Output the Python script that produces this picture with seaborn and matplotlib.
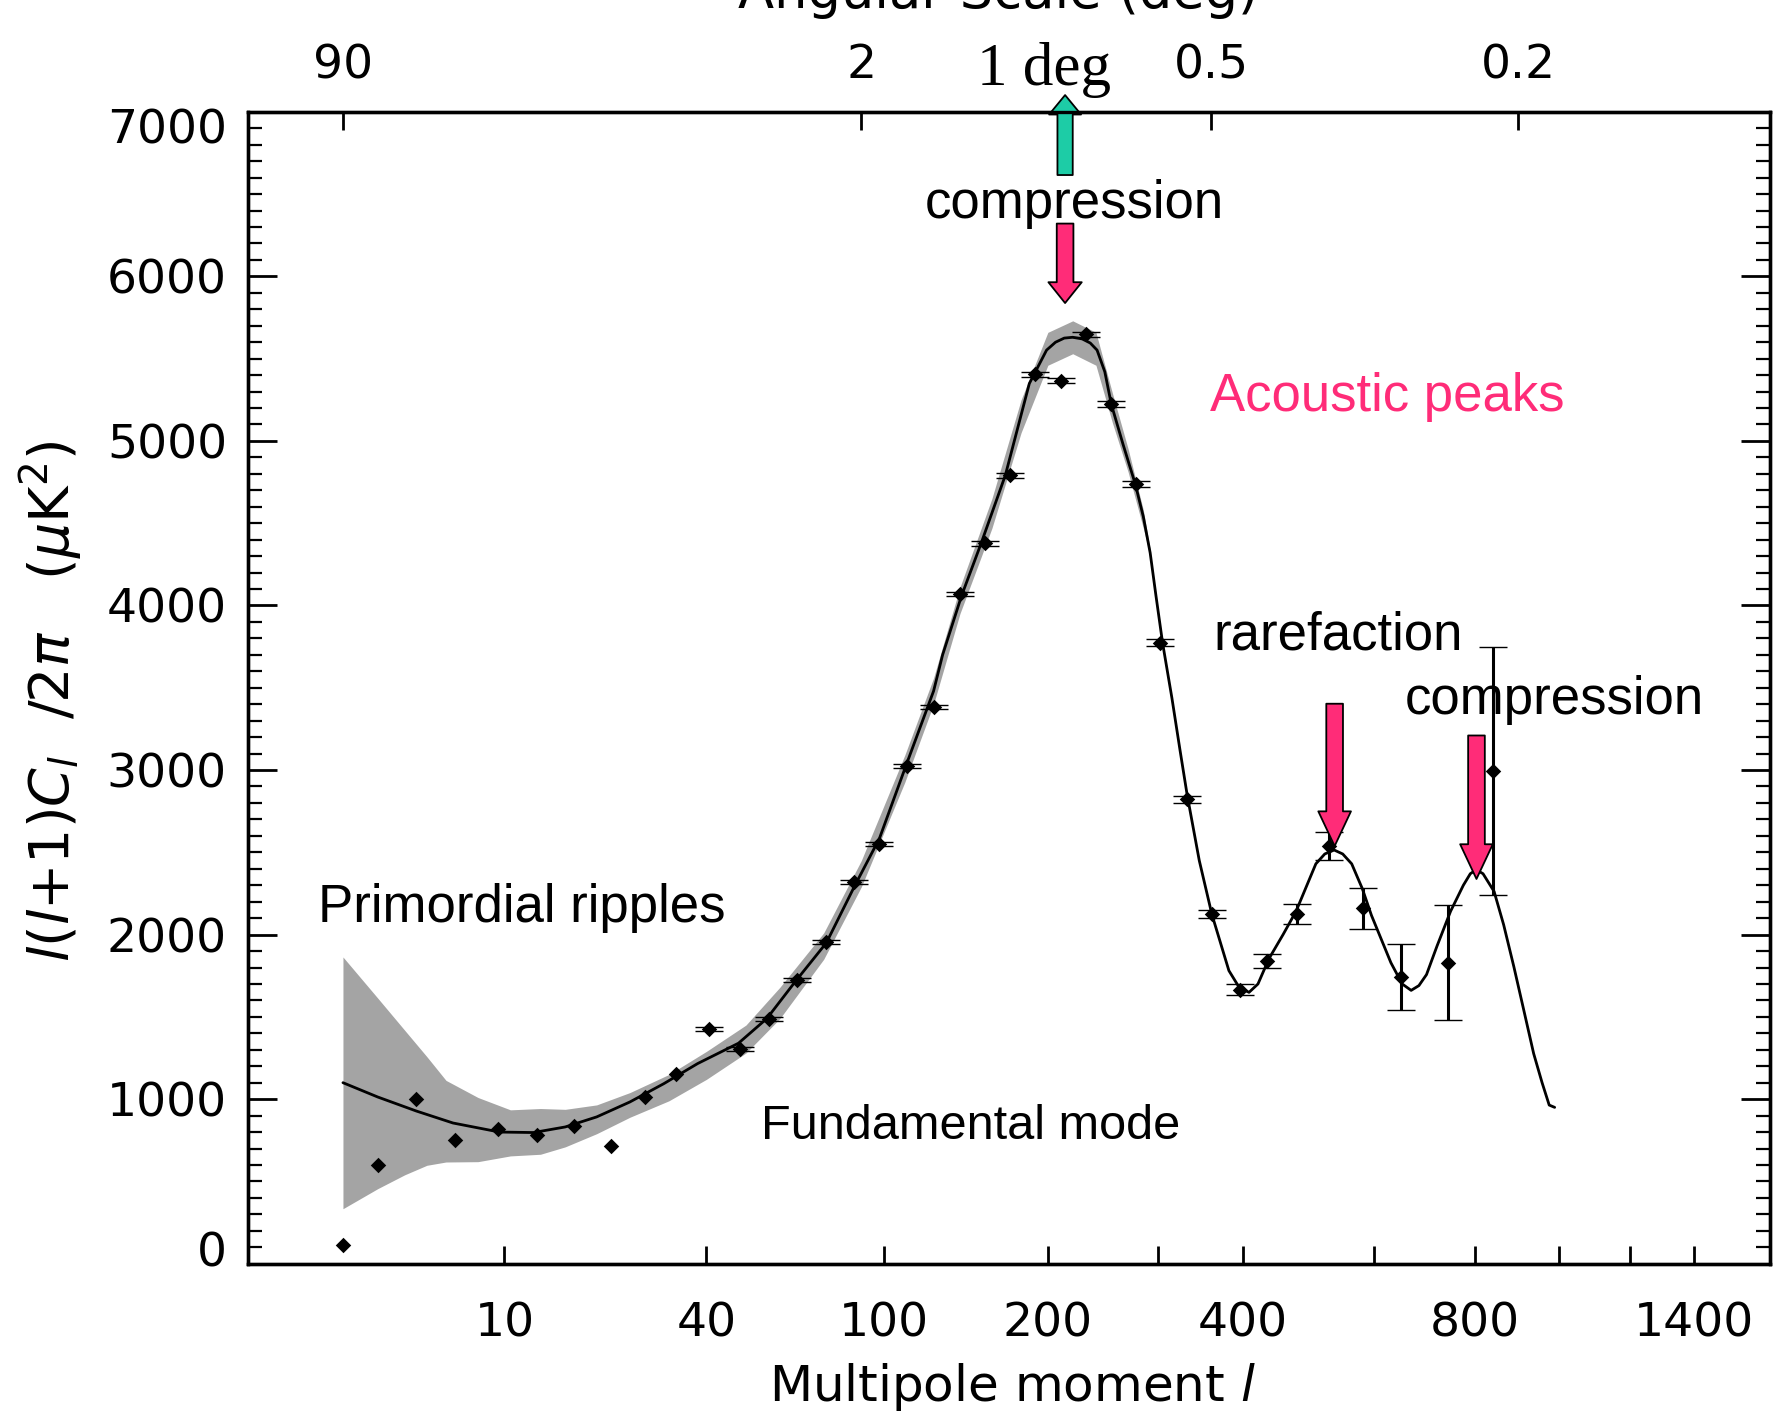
import numpy as np
import pandas as pd
import matplotlib
matplotlib.use("Agg")
import matplotlib.pyplot as plt
import matplotlib.ticker as mticker
import matplotlib.transforms as mtransforms
import seaborn as sns

# binned power spectrum points (multipole, l(l+1)C_l/2pi in uK^2, error)
data_l = [2, 3, 4.5, 6.5, 9.5, 13, 17, 22, 27.5, 33.5, 40.5, 48.5, 56.5, 65.5, 76, 87, 98,
          111, 125, 140, 155.5, 172, 190, 210, 231, 253.5, 277.5, 302.5, 331.5, 361,
          396.5, 433, 475, 524, 581, 650, 743.5, 840.5]
data_val = [112, 602, 999, 754, 821, 784, 837, 715, 1013, 1155, 1428, 1303, 1487, 1726,
            1953, 2321, 2549, 3023, 3383, 4069, 4377, 4792, 5406, 5366, 5647, 5222, 4737,
            3775, 2821, 2123, 1666, 1841, 2123, 2538, 2159, 1741, 1829, 2994]
data_err = [0, 0, 0, 0, 0, 0, 0, 0, 0, 0, 12, 12, 12, 12, 12, 12, 13, 13, 14, 14, 15, 15,
            16, 16, 17, 18, 19, 20, 22, 24, 31, 42, 61, 83, 125, 201, 350, 752]

# best-fit model curve
model_l = [2, 3, 4.5, 6.4, 9.6, 12.6, 16, 20, 25, 31, 38, 48, 56, 65, 76, 87, 98, 111, 125,
           130, 141, 153, 169, 186, 199, 206, 213, 220, 228, 235, 241, 248, 254, 265, 277,
           285, 292, 298, 305, 315, 324, 332, 346, 361, 382, 395, 408, 420, 435, 455, 474,
           504, 518, 533, 547, 562, 580, 596, 631, 652, 669, 684, 699, 720, 748, 775, 790,
           803, 818, 843, 865, 889, 912, 937, 958, 976, 990]
model_val = [1100, 1013, 928, 855, 800, 797, 831, 892, 983, 1094, 1216, 1340, 1490, 1715,
             1950, 2290, 2585, 3040, 3480, 3700, 4060, 4377, 4792, 5349, 5552, 5600, 5625,
             5630, 5620, 5595, 5552, 5420, 5222, 4980, 4737, 4540, 4320, 4060, 3773, 3440,
             3121, 2850, 2450, 2123, 1781, 1680, 1649, 1700, 1853, 2000, 2142, 2430, 2490,
             2514, 2490, 2430, 2280, 2117, 1829, 1700, 1661, 1690, 1757, 1930, 2142, 2300,
             2370, 2394, 2370, 2262, 2060, 1805, 1550, 1277, 1100, 964, 950]

# grey uncertainty band around the model
band_l = [2, 3, 4, 5, 6, 8, 10.5, 13.3, 16, 20, 25, 32, 40, 50, 60, 75, 90, 110, 125, 140,
          160, 180, 200, 220, 240, 255, 270, 285, 292]
band_lo = [334, 456, 540, 598, 618, 620, 655, 665, 710, 790, 890, 990, 1120, 1280, 1490,
           1850, 2290, 2925, 3400, 3950, 4470, 5050, 5460, 5530, 5460, 5110, 4810, 4470, 4300]
band_hi = [1864, 1614, 1419, 1258, 1114, 1010, 935, 943, 938, 965, 1040, 1150, 1290, 1450,
           1680, 2010, 2450, 3090, 3560, 4110, 4650, 5250, 5660, 5730, 5660, 5290, 4950,
           4580, 4340]

bottom_ticks = [10, 40, 100, 200, 300, 400, 600, 800, 1000, 1200, 1400]
bottom_labels = ["10", "40", "100", "200", "", "400", "", "800", "", "", "1400"]
top_ticks = [2, 90, 360, 900]
top_labels = ["90", "2", "0.5", "0.2"]

pink = "#ff2c78"
teal = "#1dcca6"

sns.set_style("white")
plt.rcParams["font.family"] = ["DejaVu Sans"]
plt.rcParams["text.color"] = "black"
plt.rcParams["xtick.color"] = "black"
plt.rcParams["ytick.color"] = "black"
plt.rcParams["axes.edgecolor"] = "black"


def fwd(x):
    return np.sign(x) * np.abs(x) ** 0.25


def inv(x):
    return np.sign(x) * np.abs(x) ** 4


df_model = pd.DataFrame({"l": model_l, "val": model_val})
df_data = pd.DataFrame({"l": data_l, "val": data_val, "err": data_err})

fig = plt.figure(figsize=(17.79, 14.14), dpi=100)
ax = fig.add_axes([0.1393, 0.1063, 0.8556, 0.8146])
ax.set_xscale("function", functions=(fwd, inv))

ax.fill_between(band_l, band_lo, band_hi, color="#a4a4a4", lw=0, zorder=1)
sns.lineplot(data=df_model, x="l", y="val", ax=ax, color="black", lw=2.0,
             estimator=None, zorder=2)
eb = df_data[df_data["err"] > 0]
ax.errorbar(eb["l"], eb["val"], yerr=eb["err"], fmt="none", ecolor="black",
            elinewidth=2.2, capsize=10, capthick=1.0, zorder=3)
sns.scatterplot(data=df_data, x="l", y="val", ax=ax, marker="D", s=62, color="black",
                linewidth=0, zorder=4)

xmax = 1672
ax.set_xlim(0.503, xmax)
ax.set_ylim(0, 7000)
ax.set_xlabel("")
ax.set_ylabel("")

ax.xaxis.set_major_locator(mticker.FixedLocator(bottom_ticks))
ax.xaxis.set_major_formatter(mticker.FixedFormatter(bottom_labels))
ax.xaxis.set_minor_locator(mticker.NullLocator())
ax.yaxis.set_major_locator(mticker.MultipleLocator(1000))
ax.yaxis.set_minor_locator(mticker.MultipleLocator(100))

ax.tick_params(axis="x", which="major", direction="in", length=13, width=2.0,
               labelsize=34, pad=27)
ax.tick_params(axis="y", which="major", direction="in", length=21, width=2.0,
               labelsize=34, pad=15, left=True, right=True)
ax.tick_params(axis="y", which="minor", direction="in", length=10, width=1.6,
               left=True, right=True)
for s in ax.spines.values():
    s.set_linewidth(2.4)

# angular scale on top
ax2 = ax.twiny()
ax2.set_xscale("function", functions=(fwd, inv))
ax2.set_xlim(ax.get_xlim())
ax2.xaxis.set_major_locator(mticker.FixedLocator(top_ticks))
ax2.xaxis.set_major_formatter(mticker.FixedFormatter(top_labels))
ax2.xaxis.set_minor_locator(mticker.NullLocator())
ax2.tick_params(axis="x", which="major", direction="in", length=13, width=2.0,
                labelsize=34, pad=17)
for s in ax2.spines.values():
    s.set_linewidth(2.4)

# the top title is cut by the figure edge in the original
fig.text(0.561, 0.994, "Angular Scale (deg)", fontsize=38, ha="center", va="baseline")
fig.text(0.569, 0.0194, "Multipole moment $l$", fontsize=36, ha="center", va="center")
fig.text(0.0287, 0.504, r"$l(l{+}1)C_l\ \ /2\pi\ \ \ (\mu\mathrm{K}^2)$", fontsize=40,
         rotation=90, ha="center", va="center")

# annotations
txt = dict(family=["Liberation Sans", "DejaVu Sans"], fontsize=38, ha="center", va="center")
fig.text(0.604, 0.856, "compression", **txt)
fig.text(0.780, 0.719, "Acoustic peaks", color=pink, **txt)
fig.text(0.752, 0.5506, "rarefaction", **txt)
fig.text(0.8738, 0.505, "compression", **txt)
fig.text(0.2934, 0.358, "Primordial ripples", **txt)
fig.text(0.5456, 0.2032, "Fundamental mode", **dict(txt, fontsize=35))
fig.text(0.587, 0.940, "1 deg", family=["Liberation Serif", "DejaVu Serif"], fontsize=44,
         ha="center", va="baseline")


def arrow(x, y_tail, y_tip, color, tw, hw, hl):
    ax.annotate("", xy=(x, y_tip), xytext=(x, y_tail), annotation_clip=False,
                arrowprops=dict(arrowstyle="simple,head_length=%g,head_width=%g,tail_width=%g"
                                % (hl, hw, tw), mutation_scale=1, fc=color, ec="black",
                                lw=1.3, shrinkA=0, shrinkB=0), zorder=6)


arrow(213.7, 6616, 7102, teal, 11, 23, 14)
arrow(213.7, 6321, 5838, pink, 12, 24, 15)
arrow(533.8, 3403, 2538, pink, 12, 23.5, 25)
arrow(803.5, 3210, 2338, pink, 12, 23.5, 25)

# nudge the end labels of the y axis inwards, as in the original
fig.canvas.draw()
for t in ax.yaxis.get_major_ticks():
    if abs(t.get_loc()) < 1:
        off = mtransforms.ScaledTranslation(0, 0.15, fig.dpi_scale_trans)
        t.label1.set_transform(t.label1.get_transform() + off)
    elif abs(t.get_loc() - 7000) < 1:
        off = mtransforms.ScaledTranslation(0, -0.14, fig.dpi_scale_trans)
        t.label1.set_transform(t.label1.get_transform() + off)

fig.savefig("out.png", dpi=100)
